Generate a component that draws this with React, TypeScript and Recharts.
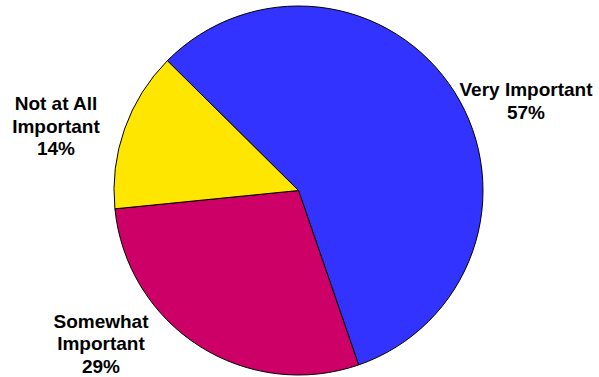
import { PieChart, Pie, Cell } from "recharts";

const categories = ["Very Important", "Somewhat Important", "Not at All Important"];
const shares = [57.3, 28.7, 14.0];
const labelLines = [
  ["Very Important", "57%"],
  ["Somewhat", "Important", "29%"],
  ["Not at All", "Important", "14%"],
];
const colors = ["#3333FF", "#CC0066", "#FFE600"];

// label anchor (first baseline) offsets from the pie centre, Excel-style placement
const labelOffsets = [
  { dx: 227.5, dy: -94.5 },
  { dx: -197.5, dy: 137 },
  { dx: -242.5, dy: -80.5 },
];

const data = categories.map((name, i) => ({ name, value: shares[i] }));

function renderLabel(props: any) {
  const { cx, cy, index } = props;
  const off = labelOffsets[index];
  const x = cx + off.dx;
  const y = cy + off.dy;
  return (
    <text
      x={x}
      y={y}
      textAnchor="middle"
      fill="#000"
      style={{ fontFamily: "'Liberation Sans', Arial, sans-serif", fontWeight: "bold", fontSize: 19 }}
    >
      {labelLines[index].map((line, i) => (
        <tspan key={i} x={x} dy={i === 0 ? 0 : 22.5}>
          {line}
        </tspan>
      ))}
    </text>
  );
}

export default function App() {
  return (
    <div style={{ position: "absolute", left: 0, top: 0, width: 599, height: 377, background: "#fff" }}>
      <PieChart width={599} height={377} margin={{ top: 0, right: 0, bottom: 0, left: 0 }}>
        <Pie
          data={data}
          dataKey="value"
          nameKey="name"
          cx={298.5}
          cy={190.5}
          outerRadius={184.5}
          startAngle={135.3}
          endAngle={-224.7}
          stroke="#000"
          strokeWidth={1}
          label={renderLabel}
          labelLine={false}
          isAnimationActive={false}
        >
          {data.map((d, i) => (
            <Cell key={d.name} fill={colors[i]} />
          ))}
        </Pie>
      </PieChart>
    </div>
  );
}
